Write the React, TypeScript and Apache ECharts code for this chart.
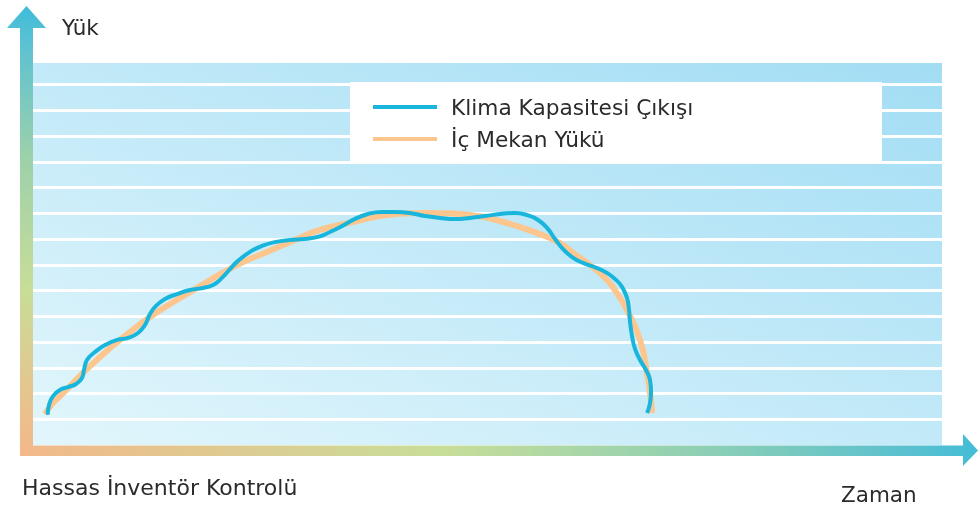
import React, { useEffect, useRef } from "react";
import * as echarts from "echarts";

// x: time (0-100), y: load in stripe units
const loadX = [1.32, 2.09, 2.97, 4.07, 5.5, 7.37, 9.57, 12.87, 15.62, 18.04, 22.0, 25.74, 28.82, 31.57, 35.2, 38.94, 43.67, 48.07, 51.71, 55.45, 57.98, 59.41, 61.28, 63.15, 64.36, 65.35, 66.78, 67.55, 67.88, 68.1];
const loadY = [1.2, 1.59, 1.9, 2.29, 2.8, 3.42, 4.08, 4.97, 5.59, 6.1, 6.91, 7.5, 7.96, 8.35, 8.66, 8.93, 9.01, 8.93, 8.66, 8.23, 7.84, 7.46, 6.99, 6.41, 5.83, 5.24, 4.08, 2.8, 2.02, 1.24];

const capX = [1.62, 1.76, 2.2, 2.97, 3.85, 4.73, 5.39, 5.61, 5.94, 6.82, 7.92, 9.24, 10.45, 11.55, 12.32, 12.87, 13.53, 14.52, 15.84, 17.27, 18.7, 19.8, 20.79, 21.67, 22.55, 23.87, 25.19, 26.62, 28.27, 29.92, 31.35, 32.67, 33.99, 35.42, 36.85, 38.39, 39.82, 41.47, 43.12, 44.77, 46.42, 48.07, 49.72, 51.38, 53.03, 54.35, 55.56, 56.55, 57.43, 58.31, 59.3, 60.51, 62.05, 63.15, 64.03, 64.8, 65.35, 65.57, 65.68, 65.9, 66.23, 66.78, 67.44, 67.88, 67.99, 67.88, 67.55];
const capY = [1.17, 1.55, 1.9, 2.14, 2.25, 2.37, 2.6, 2.91, 3.3, 3.61, 3.88, 4.08, 4.16, 4.35, 4.66, 5.09, 5.4, 5.67, 5.86, 6.02, 6.1, 6.21, 6.49, 6.83, 7.15, 7.5, 7.73, 7.88, 7.96, 8.0, 8.08, 8.27, 8.5, 8.78, 8.97, 9.05, 9.05, 9.01, 8.89, 8.82, 8.78, 8.82, 8.89, 8.97, 9.01, 8.93, 8.74, 8.43, 8.0, 7.61, 7.3, 7.07, 6.87, 6.68, 6.45, 6.14, 5.71, 5.24, 4.78, 4.23, 3.73, 3.3, 2.91, 2.52, 2.06, 1.63, 1.24];

const seriesNames = ["Klima Kapasitesi Çıkışı", "İç Mekan Yükü"];
const yAxisTitle = "Yük";
const xAxisTitle = "Zaman";
const captionText = "Hassas İnventör Kontrolü";

const FONT = "'DejaVu Sans', sans-serif";

export default function App() {
  const ref = useRef<HTMLDivElement>(null);
  useEffect(() => {
    if (!ref.current) return;
    const chart = echarts.init(ref.current, null, { renderer: "svg" });
    const capData = capX.map((x, i) => [x, capY[i]]);
    const loadData = loadX.map((x, i) => [x, loadY[i]]);
    chart.setOption({
      animation: false,
      grid: {
        left: 33,
        right: 36,
        top: 63,
        bottom: 61,
        show: true,
        borderWidth: 0,
        backgroundColor: new echarts.graphic.LinearGradient(0, 1, 1, 0, [
          { offset: 0, color: "#e2f6fc" },
          { offset: 1, color: "#a2ddf4" },
        ]),
      },
      xAxis: {
        type: "value",
        min: 0,
        max: 100,
        show: false,
      },
      yAxis: {
        type: "value",
        min: 0,
        max: 14.835,
        interval: 1,
        axisLine: { show: false },
        axisTick: { show: false },
        axisLabel: { show: false },
        splitLine: {
          show: true,
          showMinLine: false,
          showMaxLine: false,
          lineStyle: { color: "#ffffff", width: 3 },
        },
      },
      legend: {
        orient: "vertical",
        left: 373,
        top: 96,
        itemWidth: 64,
        itemHeight: 4,
        itemGap: 10,
        icon: "rect",
        padding: 0,
        z: 6,
        data: seriesNames,
        textStyle: {
          fontSize: 21.7,
          color: "#2b2b2b",
          fontFamily: FONT,
          padding: [0, 0, 0, 9],
        },
      },
      graphic: [
        {
          type: "rect",
          z: 3,
          shape: { x: 350, y: 82, width: 532, height: 81 },
          style: { fill: "#ffffff" },
        },
        {
          type: "polygon",
          z: 4,
          shape: {
            points: [
              [20, 456],
              [20, 28],
              [7, 28],
              [26.5, 6],
              [46, 28],
              [33, 28],
              [33, 456],
            ],
          },
          style: {
            fill: new echarts.graphic.LinearGradient(0, 0, 0, 1, [
              { offset: 0, color: "#3dbcd9" },
              { offset: 0.08, color: "#5bc1d3" },
              { offset: 0.34, color: "#9dd1aa" },
              { offset: 0.63, color: "#c8dd98" },
              { offset: 0.88, color: "#e8c38e" },
              { offset: 1, color: "#f3b78a" },
            ]),
          },
        },
        {
          type: "polygon",
          z: 4,
          shape: {
            points: [
              [20, 445.5],
              [963, 445.5],
              [963, 434],
              [978, 450.5],
              [963, 466],
              [963, 456],
              [20, 456],
            ],
          },
          style: {
            fill: new echarts.graphic.LinearGradient(0, 0, 1, 0, [
              { offset: 0, color: "#f3b88a" },
              { offset: 0.44, color: "#c8de98" },
              { offset: 0.72, color: "#8ccfb5" },
              { offset: 0.92, color: "#5cc1cf" },
              { offset: 1, color: "#44bdd6" },
            ]),
          },
        },
        {
          type: "text",
          z: 5,
          style: {
            text: yAxisTitle,
            x: 62,
            y: 27,
            fill: "#2b2b2b",
            font: "21.5px " + FONT,
            textAlign: "left",
            textVerticalAlign: "middle",
          },
        },
        {
          type: "text",
          z: 5,
          style: {
            text: captionText,
            x: 22,
            y: 487.5,
            fill: "#2b2b2b",
            font: "22px " + FONT,
            textAlign: "left",
            textVerticalAlign: "middle",
          },
        },
        {
          type: "text",
          z: 5,
          style: {
            text: xAxisTitle,
            x: 841,
            y: 494.5,
            fill: "#2b2b2b",
            font: "21.5px " + FONT,
            textAlign: "left",
            textVerticalAlign: "middle",
          },
        },
      ],
      series: [
        {
          name: seriesNames[1],
          type: "line",
          data: loadData,
          smooth: true,
          showSymbol: false,
          symbol: "none",
          z: 2,
          color: "#fcc68e",
          lineStyle: { color: "#fcc68e", width: 6 },
        },
        {
          name: seriesNames[0],
          type: "line",
          data: capData,
          smooth: true,
          showSymbol: false,
          symbol: "none",
          z: 3,
          color: "#18b5dc",
          lineStyle: { color: "#18b5dc", width: 4 },
        },
      ],
    });
    return () => chart.dispose();
  }, []);
  return (
    <div
      ref={ref}
      style={{ position: "fixed", left: 0, top: 0, width: 978, height: 506 }}
    />
  );
}
